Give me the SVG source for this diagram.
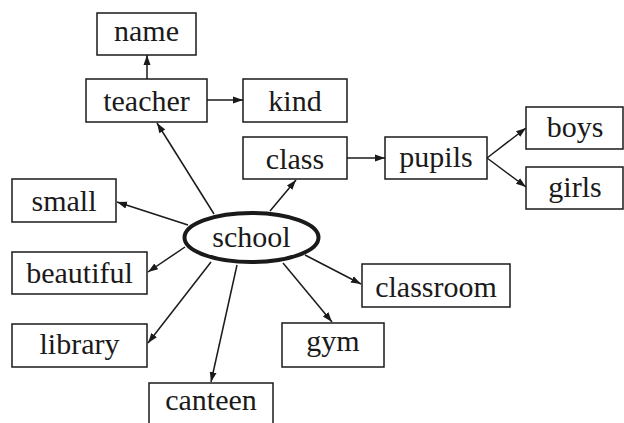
<svg xmlns="http://www.w3.org/2000/svg" width="624" height="423" viewBox="0 0 624 423">
<defs>
<marker id="ah" viewBox="0 0 10 10" refX="10" refY="5" markerWidth="10" markerHeight="10" markerUnits="userSpaceOnUse" orient="auto">
<path d="M0,1.5 L10,5 L0,8.5 Z" fill="#1a1a1a"/>
</marker>
<style>
rect{fill:#fff;stroke:#1a1a1a;stroke-width:1.5}
text{font-family:"Liberation Serif","Times New Roman",serif;font-size:30px;fill:#1a1a1a;text-anchor:middle}
.c line{stroke:#1a1a1a;stroke-width:1.5;marker-end:url(#ah)}
</style>
</defs>
<rect x="0" y="0" width="624" height="423" style="fill:#fff;stroke:none"/>
<g class="c" id="connectors">
<line x1="147" y1="79" x2="147" y2="55"/>
<line x1="207" y1="100" x2="243" y2="100"/>
<line x1="347" y1="158" x2="385" y2="158"/>
<line x1="487" y1="158" x2="526" y2="128"/>
<line x1="487" y1="158" x2="526" y2="187"/>
<line x1="270" y1="211" x2="296" y2="180"/>
<line x1="214" y1="214" x2="157" y2="123"/>
<line x1="188" y1="225" x2="117" y2="202"/>
<line x1="185" y1="247" x2="148" y2="272"/>
<line x1="211" y1="262" x2="148" y2="343"/>
<line x1="237" y1="265" x2="211" y2="382"/>
<line x1="283" y1="263" x2="332" y2="322"/>
<line x1="305" y1="255" x2="361" y2="284"/>
</g>
<g id="name"><rect x="97" y="13" width="99" height="42"/><text x="146.5" y="41">name</text></g>
<g id="teacher"><rect x="86" y="79" width="121" height="43"/><text x="146.5" y="111">teacher</text></g>
<g id="kind"><rect x="243" y="79" width="104" height="43"/><text x="295" y="111">kind</text></g>
<g id="class"><rect x="243" y="137" width="104" height="42"/><text x="295" y="169">class</text></g>
<g id="pupils"><rect x="385" y="137" width="102" height="42"/><text x="436" y="167">pupils</text></g>
<g id="boys"><rect x="526" y="107" width="97" height="42"/><text x="575" y="137">boys</text></g>
<g id="girls"><rect x="526" y="167" width="97" height="42"/><text x="575" y="197">girls</text></g>
<g id="small"><rect x="12" y="179" width="104" height="43"/><text x="64" y="211">small</text></g>
<g id="beautiful"><rect x="12" y="252" width="135" height="42"/><text x="79.5" y="283">beautiful</text></g>
<g id="library"><rect x="12" y="324" width="135" height="43"/><text x="79.5" y="354">library</text></g>
<g id="canteen"><rect x="149" y="383" width="124" height="45"/><text x="211" y="410">canteen</text></g>
<g id="gym"><rect x="282" y="323" width="102" height="44"/><text x="333" y="351">gym</text></g>
<g id="classroom"><rect x="362" y="264" width="148" height="43"/><text x="436" y="297">classroom</text></g>
<g id="school"><ellipse cx="251.5" cy="237.5" rx="67" ry="24.5" fill="#fff" stroke="#1a1a1a" stroke-width="4"/><text x="251.5" y="247">school</text></g>
</svg>
